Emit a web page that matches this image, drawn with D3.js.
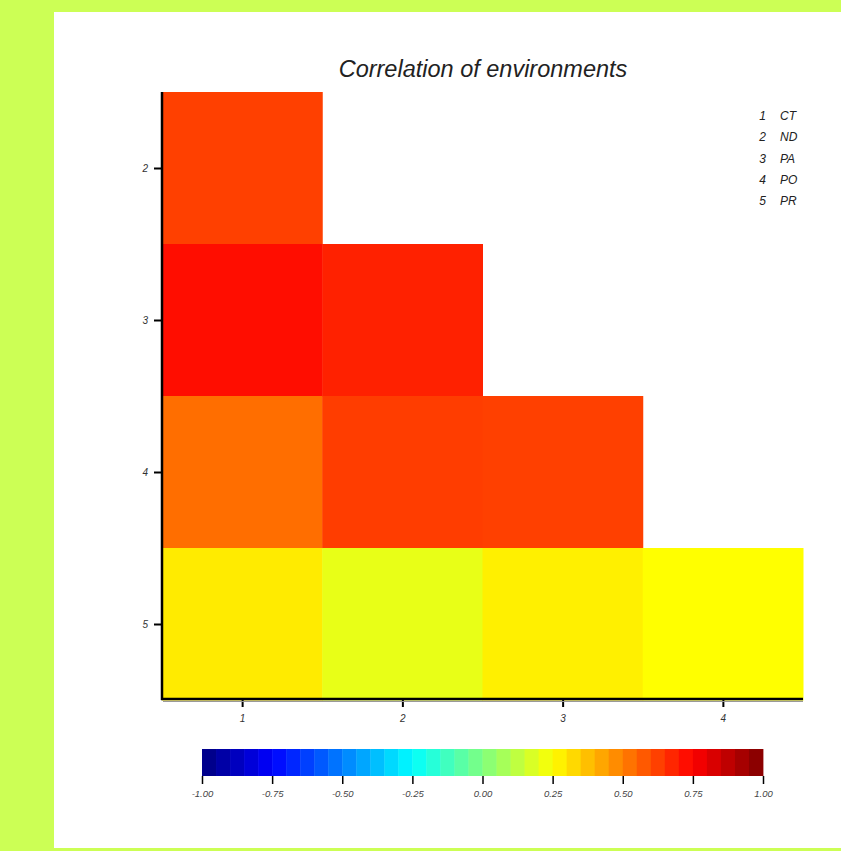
<!DOCTYPE html>
<html><head><meta charset="utf-8">
<script src="https://cdn.jsdelivr.net/npm/d3@7"></script>
<style>html,body{margin:0;padding:0;background:#ccff55;}svg{display:block;}</style>
</head><body>
<svg id="chart" width="841" height="851"></svg>
<script>
const envCodes = ["CT","ND","PA","PO","PR"];
const envIds = [1,2,3,4,5];
const xCats = [1,2,3,4];
const yCats = [2,3,4,5];
// correlation values: rows (y) 2..5, columns (x) 1..4
const cells = [
  {x:1,y:2,v:0.625},
  {x:1,y:3,v:0.725},{x:2,y:3,v:0.685},
  {x:1,y:4,v:0.535},{x:2,y:4,v:0.63},{x:3,y:4,v:0.625},
  {x:1,y:5,v:0.29},{x:2,y:5,v:0.205},{x:3,y:5,v:0.28},{x:4,y:5,v:0.25}
];
const barTicks = [-1,-0.75,-0.5,-0.25,0,0.25,0.5,0.75,1];
const nBins = 40;

function jet(t){
  const c = x => Math.max(0, Math.min(1, x));
  const r = c(1.5 - Math.abs(4*t - 3));
  const g = c(1.5 - Math.abs(4*t - 2));
  const b = c(1.5 - Math.abs(4*t - 1));
  return d3.rgb(r*255, g*255, b*255).formatHex();
}
const color = d3.scaleSequential(jet).domain([-1,1]);

const svg = d3.select("#chart");
svg.append("rect").attr("x",54).attr("y",12).attr("width",800).attr("height",836).attr("fill","#fff");

const x = d3.scaleLinear().domain([0.5,4.5]).range([162,803]);
const y = d3.scaleLinear().domain([1.5,5.5]).range([92,700]);
const font = "Liberation Sans, Arial, sans-serif";

svg.append("text").attr("x",483).attr("y",77).attr("text-anchor","middle")
  .attr("font-family",font).attr("font-style","italic")
  .attr("font-size",23.5).attr("fill","#222").text("Correlation of environments");

svg.append("g").selectAll("rect").data(cells).join("rect")
  .attr("x",d=>x(d.x-0.5)).attr("y",d=>y(d.y-0.5))
  .attr("width",d=>x(d.x+0.5)-x(d.x-0.5)+0.5).attr("height",d=>y(d.y+0.5)-y(d.y-0.5)+0.5)
  .attr("fill",d=>color(d.v));

// y axis
const yAxis = svg.append("g").attr("transform","translate(162,0)")
  .call(d3.axisLeft(y).tickValues(yCats).tickFormat(d3.format("d")).tickSize(8).tickPadding(6));
yAxis.select(".domain").attr("stroke","#000").attr("stroke-width",2.5).attr("d","M0,92V700");
yAxis.selectAll(".tick line").attr("stroke","#000").attr("stroke-width",2);
yAxis.selectAll(".tick text").attr("font-family",font).attr("font-style","italic").attr("font-size",10).attr("fill","#333");

// x axis
const xAxis = svg.append("g").attr("transform","translate(0,699)")
  .call(d3.axisBottom(x).tickValues(xCats).tickFormat(d3.format("d")).tickSize(8).tickPadding(8));
xAxis.select(".domain").attr("stroke","#000").attr("stroke-width",2.5).attr("d","M161,0H803");
xAxis.selectAll(".tick line").attr("stroke","#000").attr("stroke-width",2);
xAxis.selectAll(".tick text").attr("font-family",font).attr("font-style","italic").attr("font-size",10).attr("fill","#333");
svg.append("line").attr("x1",163).attr("x2",803).attr("y1",701.5).attr("y2",701.5).attr("stroke","#999").attr("stroke-width",1);

// legend
const lg = svg.append("g");
envIds.forEach((id,i)=>{
  const yy = 120 + i*21.3;
  lg.append("text").attr("x",766).attr("y",yy).attr("text-anchor","end")
    .attr("font-family",font).attr("font-style","italic").attr("font-size",12).attr("fill","#222").text(id);
  lg.append("text").attr("x",780).attr("y",yy)
    .attr("font-family",font).attr("font-style","italic").attr("font-size",12).attr("fill","#222").text(envCodes[i]);
});

// colour bar
const cb = d3.scaleLinear().domain([-1,1]).range([202,763]);
const bins = d3.range(nBins).map(i=>({a:-1+2*i/nBins, b:-1+2*(i+1)/nBins}));
svg.append("g").selectAll("rect").data(bins).join("rect")
  .attr("x",d=>cb(d.a)).attr("y",749).attr("width",d=>cb(d.b)-cb(d.a)+0.4).attr("height",27)
  .attr("fill",d=>color((d.a+d.b)/2));
const cbAxis = svg.append("g").attr("transform","translate(0,776)")
  .call(d3.axisBottom(cb).tickValues(barTicks).tickFormat(d3.format(".2f")).tickSize(8).tickPadding(6));
cbAxis.select(".domain").remove();
cbAxis.selectAll(".tick line").attr("stroke","#000").attr("stroke-width",1.5);
cbAxis.selectAll(".tick text").attr("font-family",font).attr("font-style","italic").attr("font-size",9.5).attr("fill","#444")
  .text(d=>d3.format(".2f")(d).replace("−","-"));
</script>
</body></html>
